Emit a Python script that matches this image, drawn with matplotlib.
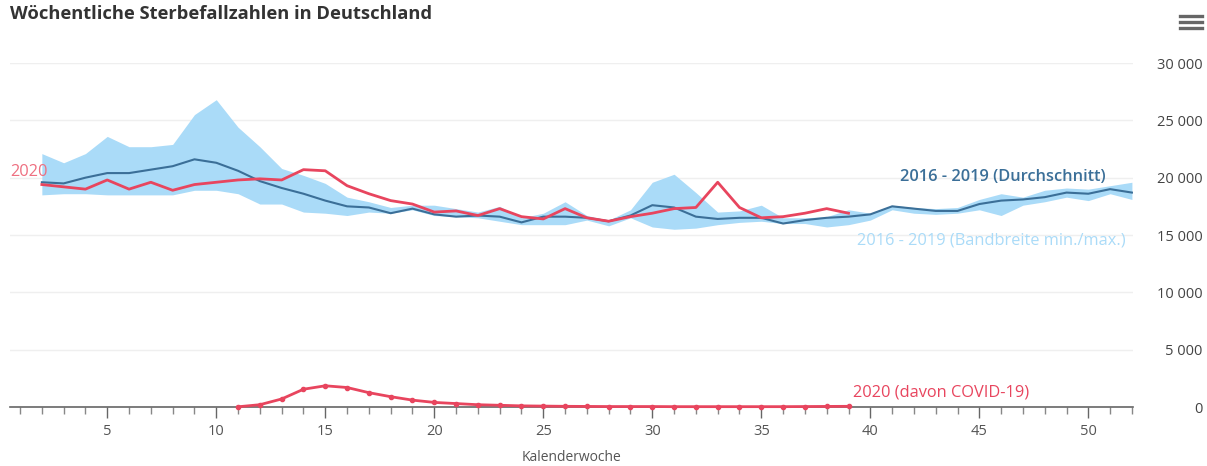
import matplotlib
matplotlib.use('Agg')
import matplotlib.pyplot as plt
from matplotlib.ticker import FuncFormatter, MultipleLocator
from matplotlib.lines import Line2D

plt.rcParams['font.family'] = ['Open Sans', 'DejaVu Sans']

weeks = list(range(2, 53))
band_max = [22.1, 21.3, 22.1, 23.6, 22.7, 22.7, 22.9, 25.5, 26.8, 24.4,
            22.7, 20.8, 20.2, 19.5, 18.3, 17.9, 17.4, 17.6, 17.6, 17.3,
            17.0, 17.5, 16.5, 16.9, 17.9, 16.7, 16.3, 17.2, 19.6, 20.3,
            18.7, 17.0, 17.1, 17.6, 16.5, 16.5, 16.6, 17.2, 16.9, 17.6,
            17.4, 17.3, 17.4, 18.1, 18.6, 18.3, 18.9, 19.1, 19.0, 19.3, 19.6]
band_min = [18.5, 18.6, 18.6, 18.5, 18.5, 18.5, 18.5, 18.9, 18.9, 18.6,
            17.7, 17.7, 17.0, 16.9, 16.7, 17.0, 16.9, 17.2, 16.7, 16.6,
            16.5, 16.2, 15.9, 15.9, 15.9, 16.3, 15.8, 16.5, 15.7, 15.5,
            15.6, 15.9, 16.1, 16.2, 16.0, 16.0, 15.7, 15.9, 16.3, 17.2,
            16.9, 16.8, 16.9, 17.2, 16.7, 17.6, 17.9, 18.3, 18.0, 18.6, 18.1]
mean = [19.6, 19.5, 20.0, 20.4, 20.4, 20.7, 21.0, 21.6, 21.3, 20.6,
        19.7, 19.1, 18.6, 18.0, 17.5, 17.4, 16.9, 17.3, 16.8, 16.6,
        16.7, 16.6, 16.1, 16.6, 16.6, 16.5, 16.2, 16.7, 17.6, 17.4,
        16.6, 16.4, 16.5, 16.5, 16.0, 16.3, 16.5, 16.6, 16.8, 17.5,
        17.3, 17.1, 17.1, 17.7, 18.0, 18.1, 18.3, 18.7, 18.6, 19.0, 18.7]

weeks_2020 = list(range(2, 40))
deaths_2020 = [19.4, 19.2, 19.0, 19.8, 19.0, 19.6, 18.9, 19.4, 19.6, 19.8,
               19.9, 19.8, 20.7, 20.6, 19.3, 18.6, 18.0, 17.7, 17.0, 17.1,
               16.7, 17.3, 16.6, 16.4, 17.3, 16.5, 16.2, 16.6, 16.9, 17.3,
               17.4, 19.6, 17.4, 16.5, 16.6, 16.9, 17.3, 16.9]

weeks_covid = list(range(11, 40))
covid = [0.02, 0.2, 0.7, 1.55, 1.85, 1.7, 1.25, 0.9, 0.6, 0.4,
         0.3, 0.2, 0.15, 0.1, 0.08, 0.06, 0.05, 0.04, 0.04, 0.04,
         0.03, 0.03, 0.03, 0.03, 0.03, 0.03, 0.04, 0.05, 0.06]

band_max = [v * 1000 for v in band_max]
band_min = [v * 1000 for v in band_min]
mean = [v * 1000 for v in mean]
deaths_2020 = [v * 1000 for v in deaths_2020]
covid = [v * 1000 for v in covid]

red = '#e8455e'
blue = '#3b6f98'
light = '#aadbf8'
gray = '#555555'

fig = plt.figure(figsize=(12.07, 4.66), dpi=100)
ax = fig.add_axes([0.0083, 0.1266, 0.9304, 0.7382])

ax.fill_between(weeks, band_min, band_max, color=light, linewidth=0, zorder=1)
ax.plot(weeks, mean, color=blue, linewidth=1.5, zorder=2)
ax.plot(weeks_2020, deaths_2020, color=red, linewidth=2, zorder=3)
ax.plot(weeks_covid, covid, color=red, linewidth=2, marker='o', markersize=3, zorder=3, clip_on=False)

ax.set_xlim(0.54, 52.05)
ax.set_ylim(0, 30000)

ax.yaxis.tick_right()
ax.yaxis.set_major_locator(MultipleLocator(5000))
ax.yaxis.set_major_formatter(FuncFormatter(lambda v, p: '{:,}'.format(int(v)).replace(',', ' ')))
ax.tick_params(axis='y', length=0, pad=50, labelsize=10.5, labelcolor='#444444')
for lab in ax.get_yticklabels():
    lab.set_horizontalalignment('right')
ax.grid(axis='y', color='#efefef', linewidth=1)
ax.set_axisbelow(True)

ax.xaxis.set_major_locator(MultipleLocator(5))
ax.xaxis.set_minor_locator(MultipleLocator(1))
ax.tick_params(axis='x', which='major', length=8, width=1, color='#666666', labelsize=10.5, labelcolor=gray, pad=4)
ax.tick_params(axis='x', which='minor', length=5, width=1, color='#888888')
ax.set_xlabel('Kalenderwoche', fontsize=10, color=gray, labelpad=8)

for s in ['top', 'left', 'right']:
    ax.spines[s].set_visible(False)
ax.spines['bottom'].set_color('#666666')
ax.spines['bottom'].set_linewidth(1.2)

ax.text(0.54, 20500, '2020', color='#ee6f80', fontsize=11.8, va='center', ha='left')
ax.text(50.8, 20050, '2016 - 2019 (Durchschnitt)', color=blue, fontsize=11.8, va='center', ha='right',
        fontweight='semibold')
ax.text(51.7, 14500, '2016 - 2019 (Bandbreite min./max.)', color=light, fontsize=11.8, va='center', ha='right')
ax.text(39.2, 1300, '2020 (davon COVID-19)', color=red, fontsize=11.8, va='center', ha='left')

fig.text(0.008, 0.97, 'Wöchentliche Sterbefallzahlen in Deutschland', fontsize=13.2, fontweight='bold',
         color='#333333', va='center', ha='left')

# menue-symbol oben rechts
for yy in [0.966, 0.953, 0.940]:
    fig.add_artist(Line2D([0.978, 0.996], [yy, yy], color='#666666', linewidth=2.4))

fig.savefig('out.png', dpi=100)
